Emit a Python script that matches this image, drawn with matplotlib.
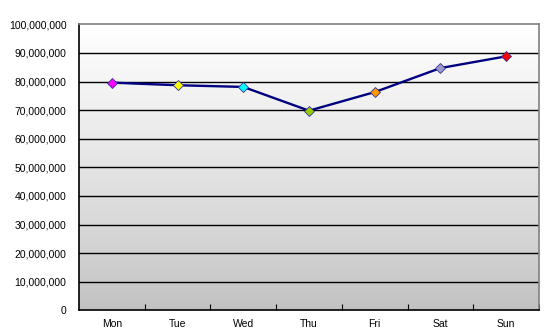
import numpy as np
import matplotlib.pyplot as plt
from matplotlib.ticker import FuncFormatter, FixedLocator

days = ["Mon", "Tue", "Wed", "Thu", "Fri", "Sat", "Sun"]
values = [79600000, 78700000, 78100000, 69800000, 76300000, 84700000, 88800000]
marker_colors = ["#ff00ff", "#ffff00", "#00ffff", "#99cc00", "#ff9900", "#9999cc", "#ff0000"]
y_ticks = list(range(0, 100000001, 10000000))

plt.rcParams['font.family'] = ['Liberation Sans', 'DejaVu Sans']

fig = plt.figure(figsize=(5.48, 3.34), dpi=100)
ax = fig.add_axes([79/548, 1 - 310.3/334, 460/548, 286/334])

# fondo degradado blanco -> gris
t = np.linspace(1.0, 0.0, 256).reshape(-1, 1) ** 0.8
top = np.array([1.0, 1.0, 1.0])
bot = np.array([0xc0, 0xc0, 0xc0]) / 255
img = bot + (top - bot) * t[..., None]
ax.imshow(img, extent=[0, 7, 0, 100000000], aspect="auto", zorder=0)

# lineas de grilla (sin la de arriba, que es el borde)
for yv in y_ticks[1:-1]:
    ax.axhline(yv, color="black", linewidth=1, zorder=1)

x = np.arange(len(days)) + 0.5
ax.plot(x, values, color="#000080", linewidth=1.7, zorder=3)
for xi, v, c in zip(x, values, marker_colors):
    ax.plot(xi, v, marker="D", markersize=5, markerfacecolor=c,
            markeredgecolor="#333399", markeredgewidth=0.6, zorder=4)

ax.set_xlim(0, 7)
ax.set_ylim(0, 100000000)
ax.set_yticks(y_ticks)
ax.yaxis.set_major_formatter(FuncFormatter(lambda v, p: f"{int(v):,}"))

ax.xaxis.set_major_locator(FixedLocator(np.arange(1, 8)))
ax.xaxis.set_minor_locator(FixedLocator(x))
ax.set_xticklabels([])
ax.set_xticklabels(days, minor=True)
ax.tick_params(axis="x", which="major", direction="in", length=4, color="black")
ax.tick_params(axis="x", which="minor", length=0, labelsize=7.5, pad=6)
ax.tick_params(axis="y", length=0, labelsize=7.5, pad=9)

for s in ["top", "right"]:
    ax.spines[s].set_color("#808080")
    ax.spines[s].set_linewidth(1.2)
for s in ["left", "bottom"]:
    ax.spines[s].set_color("black")
    ax.spines[s].set_linewidth(1.2)

plt.savefig("out.png", dpi=100)
